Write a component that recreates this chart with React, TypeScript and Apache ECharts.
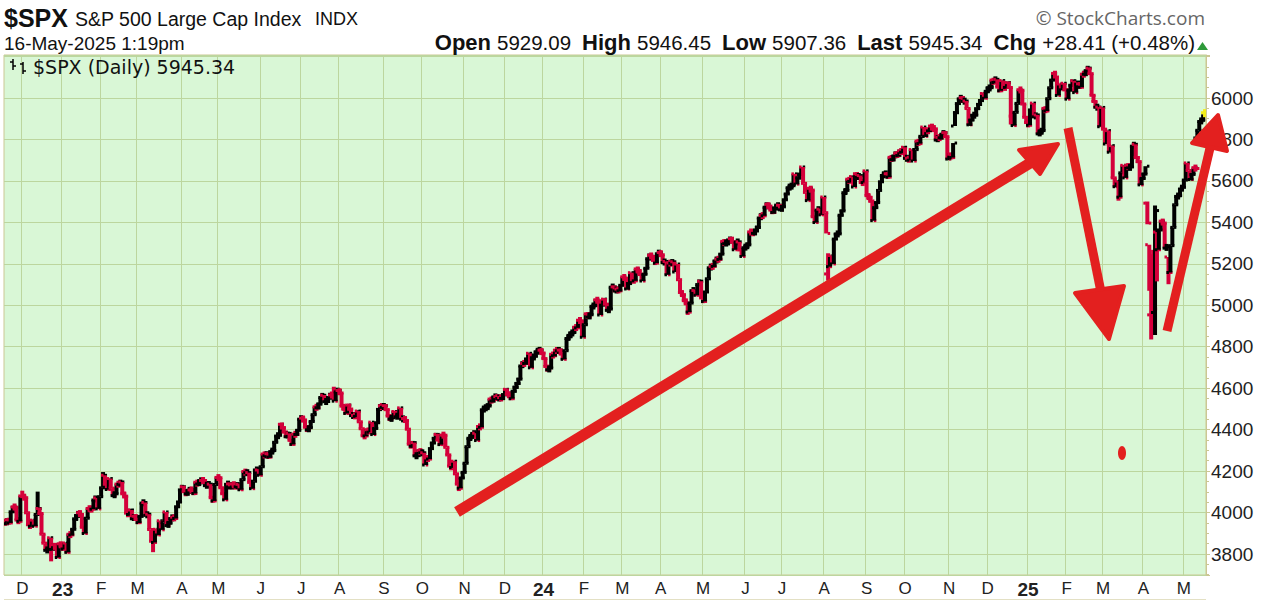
import React, { useEffect, useRef } from 'react';
import * as echarts from 'echarts';

// ---- Daily closes of $SPX (one array per month) ----
const startPrevClose = 3958.79;
const nov22 = [3946.56, 3965.34, 3949.94, 4003.58, 4027.26, 4026.12, 3963.94, 3957.63, 4080.11];
const dec22 = [4076.57, 4071.7, 3998.84, 3941.26, 3933.92, 3963.51, 3934.38, 3990.56, 4019.65, 3995.32, 3895.75, 3852.36, 3817.66, 3821.62, 3878.44, 3822.39, 3844.82, 3829.25, 3783.22, 3849.28, 3839.5];
const jan23 = [3824.14, 3852.97, 3808.1, 3895.08, 3892.09, 3919.25, 3969.61, 3983.17, 3999.09, 3990.97, 3928.86, 3898.85, 3972.61, 4019.81, 4016.95, 4016.22, 4060.43, 4070.56, 4017.77, 4076.6];
const feb23 = [4119.21, 4179.76, 4136.48, 4111.08, 4164.0, 4117.86, 4081.5, 4090.46, 4137.29, 4136.13, 4147.6, 4090.41, 4079.09, 3997.34, 3991.05, 4012.32, 3970.04, 3982.24, 3970.15];
const mar23 = [3951.39, 3981.35, 4045.64, 4048.42, 3986.37, 3992.01, 3918.32, 3861.59, 3855.76, 3919.29, 3891.93, 3960.28, 3916.64, 3951.57, 4002.87, 3936.97, 3948.72, 3970.99, 3977.53, 3971.27, 4027.81, 4050.83, 4109.31];
const apr23 = [4124.51, 4100.6, 4090.38, 4105.02, 4109.11, 4108.94, 4091.95, 4146.22, 4137.64, 4151.32, 4154.87, 4154.52, 4129.79, 4133.52, 4137.04, 4071.63, 4055.99, 4135.35, 4169.48];
const may23 = [4167.87, 4119.58, 4090.75, 4061.22, 4136.25, 4138.12, 4119.17, 4137.64, 4130.62, 4124.08, 4136.28, 4109.9, 4158.77, 4198.05, 4191.98, 4192.63, 4145.58, 4115.24, 4151.28, 4205.45, 4205.52, 4179.83];
const jun23 = [4221.02, 4282.37, 4273.79, 4283.85, 4267.52, 4293.93, 4298.86, 4338.93, 4369.01, 4372.59, 4425.84, 4409.59, 4388.71, 4365.69, 4381.89, 4348.33, 4328.82, 4378.41, 4376.86, 4396.44, 4450.38];
const jul23 = [4455.59, 4446.82, 4411.59, 4398.95, 4409.53, 4439.26, 4472.16, 4510.04, 4505.42, 4522.79, 4554.98, 4565.72, 4534.87, 4536.34, 4554.64, 4567.46, 4566.75, 4537.41, 4582.23, 4588.96];
const aug23 = [4576.73, 4513.39, 4501.89, 4478.03, 4518.44, 4499.38, 4467.71, 4468.83, 4464.05, 4489.72, 4437.86, 4404.33, 4370.36, 4369.71, 4399.77, 4387.55, 4436.01, 4376.31, 4405.71, 4433.31, 4497.63, 4514.87, 4507.66];
const sep23 = [4515.77, 4496.83, 4465.48, 4451.14, 4457.49, 4487.46, 4461.9, 4467.44, 4505.1, 4450.32, 4453.53, 4443.95, 4402.2, 4330.0, 4320.06, 4337.44, 4273.53, 4274.51, 4299.7, 4288.05];
const oct23 = [4288.39, 4229.45, 4263.75, 4258.19, 4308.5, 4335.66, 4358.24, 4376.95, 4349.61, 4327.78, 4373.63, 4373.2, 4314.6, 4278.0, 4224.16, 4217.04, 4247.68, 4186.77, 4137.23, 4117.37, 4166.82, 4193.8];
const nov23 = [4237.86, 4317.78, 4358.34, 4365.98, 4378.38, 4382.78, 4347.35, 4415.24, 4411.55, 4495.7, 4502.88, 4508.24, 4514.02, 4547.38, 4538.19, 4556.62, 4559.34, 4550.43, 4554.89, 4550.58, 4567.8];
const dec23 = [4594.63, 4569.78, 4567.18, 4549.34, 4585.59, 4604.37, 4622.44, 4643.7, 4707.09, 4719.55, 4719.19, 4740.56, 4768.37, 4698.35, 4746.75, 4754.63, 4774.75, 4781.58, 4783.35, 4769.83];
const jan24 = [4742.83, 4704.81, 4688.68, 4697.24, 4763.54, 4756.5, 4783.45, 4780.24, 4783.83, 4765.98, 4739.21, 4780.94, 4839.81, 4850.43, 4864.6, 4868.55, 4894.16, 4890.97, 4927.93, 4924.97, 4845.65];
const feb24 = [4906.19, 4958.61, 4942.81, 4954.23, 4995.06, 4997.91, 5026.61, 5021.84, 4953.17, 5000.62, 5029.73, 5005.57, 4975.51, 4981.8, 5087.03, 5088.8, 5069.53, 5078.18, 5069.76, 5096.27];
const mar24 = [5137.08, 5130.95, 5078.65, 5104.76, 5157.36, 5123.69, 5117.94, 5175.27, 5165.31, 5150.48, 5117.09, 5149.42, 5178.51, 5224.62, 5241.53, 5234.18, 5218.19, 5203.58, 5248.49, 5254.35];
const apr24 = [5243.77, 5205.81, 5211.49, 5147.21, 5204.34, 5202.39, 5209.91, 5160.64, 5199.06, 5123.41, 5061.82, 5051.41, 5022.21, 5011.12, 4967.23, 5010.6, 5070.55, 5071.63, 5048.42, 5099.96, 5116.17, 5035.69];
const may24 = [5018.39, 5064.2, 5127.79, 5180.74, 5187.7, 5187.67, 5214.08, 5222.68, 5221.42, 5246.68, 5308.15, 5297.1, 5303.27, 5308.13, 5321.41, 5307.01, 5267.84, 5304.72, 5306.04, 5266.95, 5235.48, 5277.51];
const jun24 = [5283.4, 5291.34, 5354.03, 5352.96, 5346.99, 5360.79, 5375.32, 5421.03, 5433.74, 5431.6, 5473.23, 5487.03, 5473.17, 5464.62, 5447.87, 5469.3, 5477.9, 5482.87, 5460.48];
const jul24 = [5475.09, 5509.01, 5537.02, 5567.19, 5572.85, 5576.98, 5633.91, 5584.54, 5615.35, 5631.22, 5667.2, 5588.27, 5544.59, 5505.0, 5564.41, 5555.74, 5427.13, 5399.22, 5459.1, 5463.54, 5436.44, 5522.3];
const aug24 = [5446.68, 5346.56, 5186.33, 5240.03, 5199.5, 5319.31, 5344.16, 5344.39, 5434.43, 5455.21, 5543.22, 5554.25, 5608.25, 5597.12, 5620.85, 5570.64, 5634.61, 5616.84, 5625.8, 5592.18, 5591.96, 5648.4];
const sep24 = [5528.93, 5520.07, 5503.41, 5408.42, 5471.05, 5495.52, 5554.13, 5595.76, 5626.02, 5633.09, 5634.58, 5618.26, 5713.64, 5702.55, 5718.57, 5732.93, 5722.26, 5745.37, 5738.17, 5762.48];
const oct24 = [5708.75, 5709.54, 5699.94, 5751.07, 5695.94, 5751.13, 5792.04, 5780.05, 5815.03, 5859.85, 5815.26, 5842.47, 5841.47, 5864.67, 5853.98, 5851.2, 5797.42, 5809.86, 5808.12, 5823.52, 5832.92, 5813.67, 5705.45];
const nov24 = [5728.8, 5712.69, 5782.76, 5929.04, 5973.1, 5995.54, 6001.35, 5983.99, 5985.38, 5949.17, 5870.62, 5893.62, 5916.98, 5917.11, 5948.71, 5969.34, 5987.37, 6021.63, 5998.74, 6032.38];
const dec24 = [6047.15, 6049.88, 6086.49, 6075.11, 6090.27, 6052.85, 6034.91, 6084.19, 6051.25, 6051.09, 6074.08, 6050.61, 5872.16, 5867.08, 5930.85, 5974.07, 6040.04, 6037.59, 5970.84, 5906.94, 5881.63];
const jan25 = [5868.55, 5942.47, 5975.38, 5909.03, 5918.25, 5827.04, 5836.22, 5842.91, 5949.91, 5937.34, 5996.66, 6049.24, 6086.37, 6118.71, 6101.24, 6012.28, 6067.7, 6039.31, 6071.17, 6040.53];
const feb25 = [5994.57, 6037.88, 6061.48, 6083.57, 6025.99, 6066.44, 6068.5, 6051.97, 6115.07, 6114.63, 6129.58, 6144.15, 6117.52, 6013.13, 5983.25, 5955.25, 5956.06, 5861.57, 5954.5];
const mar25 = [5849.72, 5778.15, 5842.63, 5738.52, 5770.2, 5614.56, 5572.07, 5599.3, 5521.52, 5638.94, 5675.12, 5614.66, 5675.29, 5662.89, 5667.56, 5767.57, 5776.65, 5712.2, 5693.31, 5580.94, 5611.85];
const apr25 = [5633.07, 5670.97, 5396.52, 5074.08, 5062.25, 4982.77, 5456.9, 5268.05, 5363.36, 5405.97, 5396.63, 5275.7, 5282.7, 5158.2, 5287.76, 5375.86, 5484.77, 5525.21, 5528.75, 5560.83, 5569.06];
const may25 = [5604.14, 5686.67, 5650.38, 5606.91, 5631.28, 5663.94, 5659.91, 5844.19, 5886.55, 5892.58, 5916.93, 5945.34];

// month keys in order with their closes
const monthKeys = ['2022-11', '2022-12', '2023-01', '2023-02', '2023-03', '2023-04', '2023-05', '2023-06', '2023-07', '2023-08', '2023-09', '2023-10', '2023-11', '2023-12', '2024-01', '2024-02', '2024-03', '2024-04', '2024-05', '2024-06', '2024-07', '2024-08', '2024-09', '2024-10', '2024-11', '2024-12', '2025-01', '2025-02', '2025-03', '2025-04', '2025-05'];
const monthCloses = [nov22, dec22, jan23, feb23, mar23, apr23, may23, jun23, jul23, aug23, sep23, oct23, nov23, dec23, jan24, feb24, mar24, apr24, may24, jun24, jul24, aug24, sep24, oct24, nov24, dec24, jan25, feb25, mar25, apr25, may25];
const monthLetters = ['J', 'F', 'M', 'A', 'M', 'J', 'J', 'A', 'S', 'O', 'N', 'D'];

// intraday extremes / opens: [month, trading-day index, open, high, low]
const barOverrides: [string, number, number | null, number | null, number | null][] = [
  ['2022-12', 0, null, 4100.51, null],
  ['2022-12', 8, null, 4100.96, null],
  ['2022-12', 15, null, null, 3764.49],
  ['2022-12', 18, null, null, 3780.78],
  ['2023-01', 2, null, null, 3802.42],
  ['2023-02', 1, null, 4195.44, null],
  ['2023-03', 8, null, null, 3808.86],
  ['2023-07', 17, null, 4607.07, null],
  ['2023-10', 19, null, null, 4103.78],
  ['2024-04', 14, null, null, 4953.56],
  ['2024-08', 2, 5151.14, 5250.89, 5119.26],
  ['2024-11', 3, 5864.89, 5936.14, null],
  ['2024-12', 4, null, 6099.97, null],
  ['2024-12', 13, 5912.71, 5935.52, null],
  ['2025-01', 14, null, 6128.18, null],
  ['2025-02', 11, null, 6147.43, null],
  ['2025-03', 8, null, null, 5504.65],
  ['2025-04', 2, 5492.74, 5500.58, 5390.83],
  ['2025-04', 3, 5292.14, 5292.14, 5069.9],
  ['2025-04', 4, 4953.79, 5246.16, 4835.04],
  ['2025-04', 5, 5193.57, 5267.47, 4910.42],
  ['2025-04', 6, 4965.28, 5481.34, 4856.7],
  ['2025-04', 7, 5353.15, 5353.15, 5115.27],
  ['2025-04', 13, 5232.94, 5232.94, 5101.63],
  ['2025-05', 7, 5807.25, 5844.19, 5786.08],
  ['2025-05', 11, 5929.09, 5946.45, 5907.36],
];

// y-axis tick labels shown
const yLabels = [3800, 4000, 4200, 4400, 4600, 4800, 5000, 5200, 5400, 5600, 5800, 6000];

const headerTitle = '$SPX';
const headerName = 'S&P 500 Large Cap Index';
const headerExch = 'INDX';
const headerDate = '16-May-2025 1:19pm';
const quoteOpen = '5929.09';
const quoteHigh = '5946.45';
const quoteLow = '5907.36';
const quoteLast = '5945.34';
const quoteChg = '+28.41 (+0.48%)';

const W = 1267;
const H = 601;

function buildData() {
  const cats: string[] = [];
  const bars: number[][] = [];
  const labelByCat: Record<string, string> = {};
  const monthStartIdx = new Set<number>();
  let prev = startPrevClose;
  monthKeys.forEach((key, mi) => {
    const arr = monthCloses[mi];
    const yr = key.slice(2, 4);
    const mo = parseInt(key.slice(5, 7), 10);
    arr.forEach((c, j) => {
      const idx = cats.length;
      const cat = `${key}-${j}`;
      cats.push(cat);
      if (j === 0 && mi > 0) {
        monthStartIdx.add(idx);
        labelByCat[cat] = mo === 1 ? `{y|${yr}}` : `{m|${monthLetters[mo - 1]}}`;
      }
      const ov = barOverrides.find((b) => b[0] === key && b[1] === j);
      const o = ov && ov[2] != null ? ov[2] : prev;
      let hi = Math.max(o, c);
      let lo = Math.min(o, c);
      if (ov && ov[3] != null) hi = Math.max(hi, ov[3]);
      if (ov && ov[4] != null) lo = Math.min(lo, ov[4]);
      const up = c >= prev ? 1 : 0;
      bars.push([idx, o, c, lo, hi, up, 0]);
      prev = c;
    });
  });
  bars[bars.length - 1][6] = 1;
  return { cats, bars, labelByCat, monthStartIdx };
}

const RED = '#d4003a';
const ARROW = '#e3201f';
const GRID = '#bcd69e';
const BORDER = '#cbc793';
const FONT = '"Liberation Sans", Arial, sans-serif';

export default function App() {
  const ref = useRef<HTMLDivElement>(null);
  useEffect(() => {
    if (!ref.current) return;
    const chart = echarts.init(ref.current, undefined, { renderer: 'svg' });
    const { cats, bars, labelByCat, monthStartIdx } = buildData();

    const arrowHead = (pts: number[][]) => ({
      type: 'polygon',
      z: 100,
      shape: { points: pts },
      style: { fill: ARROW, stroke: ARROW, lineWidth: 4, lineJoin: 'round' },
    });
    const shaft = (x1: number, y1: number, x2: number, y2: number, w: number) => ({
      type: 'line',
      z: 100,
      shape: { x1, y1, x2, y2 },
      style: { stroke: ARROW, lineWidth: w, lineCap: 'butt' },
    });

    chart.setOption({
      animation: false,
      backgroundColor: '#ffffff',
      grid: {
        left: 4,
        right: 61,
        top: 55,
        bottom: 26,
        show: true,
        backgroundColor: '#d9f7d6',
        borderColor: BORDER,
        borderWidth: 1,
        containLabel: false,
      },
      xAxis: {
        type: 'category',
        data: cats,
        boundaryGap: true,
        axisLine: { show: false },
        axisTick: { show: false },
        axisLabel: {
          interval: (index: number) => monthStartIdx.has(index),
          formatter: (value: string) => labelByCat[value] || '',
          margin: 5,
          color: '#222',
          rich: {
            m: { fontSize: 17, fontFamily: FONT, color: '#222' },
            y: { fontSize: 19, fontWeight: 'bold', fontFamily: FONT, color: '#222' },
          },
        },
        splitLine: {
          show: true,
          interval: (index: number) => monthStartIdx.has(index),
          lineStyle: { color: GRID, width: 1 },
        },
      },
      yAxis: {
        type: 'value',
        position: 'right',
        scale: true,
        min: 3698.7,
        max: 6207.5,
        splitNumber: 12,
        axisLine: { show: true, lineStyle: { color: BORDER } },
        axisTick: { show: true, length: 4, lineStyle: { color: BORDER } },
        minorTick: { show: true, splitNumber: 4, length: 3, lineStyle: { color: BORDER } },
        axisLabel: {
          margin: 5,
          color: '#222',
          fontSize: 19,
          fontFamily: FONT,
          formatter: (v: number) => (yLabels.indexOf(Math.round(v)) >= 0 && Math.abs(v - Math.round(v)) < 1e-6 ? String(Math.round(v)) : ''),
        },
        splitLine: { show: true, lineStyle: { color: GRID, width: 1 } },
      },
      series: [
        {
          type: 'custom',
          data: bars,
          encode: { x: 0, y: [1, 2, 3, 4] },
          clip: true,
          renderItem: (params: any, api: any) => {
            const idx = api.value(0);
            const pO = api.coord([idx, api.value(1)]);
            const pC = api.coord([idx, api.value(2)]);
            const pL = api.coord([idx, api.value(3)]);
            const pH = api.coord([idx, api.value(4)]);
            const up = api.value(5) === 1;
            const last = api.value(6) === 1;
            const x = pO[0];
            let top = pH[1];
            let bot = pL[1];
            const minH = 7;
            if (bot - top < minH) {
              const m = (top + bot) / 2;
              top = m - minH / 2;
              bot = m + minH / 2;
            }
            const color = last ? '#f2ee1a' : up ? '#000000' : RED;
            return {
              type: 'group',
              children: [
                { type: 'rect', shape: { x: x - 2, y: top, width: 4, height: bot - top }, style: { fill: color } },
                { type: 'rect', shape: { x: x - 4, y: pO[1] - 1.5, width: 2.5, height: 3 }, style: { fill: color } },
                { type: 'rect', shape: { x: x + 1.5, y: pC[1] - 1.5, width: 2.5, height: 3 }, style: { fill: color } },
              ],
            };
          },
        },
      ],
      graphic: [
        // header
        { type: 'text', x: 4, y: 18, style: { text: headerTitle, font: `bold 25px ${FONT}`, fill: '#111', verticalAlign: 'middle' } },
        { type: 'text', x: 75, y: 19, style: { text: headerName, font: `19.5px ${FONT}`, fill: '#111', verticalAlign: 'middle' } },
        { type: 'text', x: 315, y: 19, style: { text: headerExch, font: `18px ${FONT}`, fill: '#111', verticalAlign: 'middle' } },
        { type: 'text', x: 4, y: 43, style: { text: headerDate, font: `19px ${FONT}`, fill: '#111', verticalAlign: 'middle' } },
        { type: 'text', x: 1205, y: 18, style: { text: '© StockCharts.com', font: '19px "Open Sans", sans-serif', fill: '#666', align: 'right', verticalAlign: 'middle' } },
        {
          type: 'text',
          x: 1195,
          y: 42,
          style: {
            text: `{b|Open}{s| }{v|${quoteOpen}}{g| }{b|High}{s| }{v|${quoteHigh}}{g| }{b|Low}{s| }{v|${quoteLow}}{g| }{b|Last}{s| }{v|${quoteLast}}{g| }{b|Chg}{s| }{v|${quoteChg}}`,
            align: 'right',
            verticalAlign: 'middle',
            rich: {
              b: { font: `bold 22px ${FONT}`, fill: '#111' },
              v: { font: `20.5px ${FONT}`, fill: '#111' },
              s: { font: `20px ${FONT}`, width: 6 },
              g: { font: `20px ${FONT}`, width: 11 },
            },
          },
        },
        { type: 'polygon', shape: { points: [[1197, 50], [1208, 50], [1202.5, 42]] }, style: { fill: '#2e9a3a' } },
        // in-plot legend
        { type: 'line', z: 50, shape: { x1: 13, y1: 59, x2: 13, y2: 70 }, style: { stroke: '#000', lineWidth: 1.5 } },
        { type: 'line', z: 50, shape: { x1: 10, y1: 62, x2: 13, y2: 62 }, style: { stroke: '#000', lineWidth: 1.5 } },
        { type: 'line', z: 50, shape: { x1: 13, y1: 66, x2: 16, y2: 66 }, style: { stroke: '#000', lineWidth: 1.5 } },
        { type: 'line', z: 50, shape: { x1: 23, y1: 62, x2: 23, y2: 74 }, style: { stroke: '#000', lineWidth: 1.5 } },
        { type: 'line', z: 50, shape: { x1: 20, y1: 64, x2: 23, y2: 64 }, style: { stroke: '#000', lineWidth: 1.5 } },
        { type: 'line', z: 50, shape: { x1: 23, y1: 71, x2: 26, y2: 71 }, style: { stroke: '#000', lineWidth: 1.5 } },
        { type: 'text', z: 50, x: 33, y: 67, style: { text: `$SPX (Daily) ${quoteLast}`, font: '19px "DejaVu Sans", Verdana, sans-serif', fill: '#111', verticalAlign: 'middle' } },
        // bottom rule
        { type: 'line', shape: { x1: 4, y1: 599.5, x2: 1206, y2: 599.5 }, style: { stroke: '#e3e0c4', lineWidth: 1 } },
        // hand-drawn red arrows
        shaft(457, 512, 1035, 160, 11),
        arrowHead([[1019, 150], [1058, 144], [1040, 174]]),
        shaft(1068, 128, 1101, 292, 9),
        arrowHead([[1075, 293], [1124, 286], [1109, 339]]),
        shaft(1167, 331, 1210, 148, 9),
        arrowHead([[1192, 143], [1218, 115], [1227, 151]]),
        { type: 'ellipse', z: 100, shape: { cx: 1122, cy: 453, rx: 4, ry: 7 }, style: { fill: ARROW } },
      ],
    });
    return () => chart.dispose();
  }, []);
  return <div ref={ref} style={{ position: 'fixed', left: 0, top: 0, width: W, height: H, background: '#fff' }} />;
}
